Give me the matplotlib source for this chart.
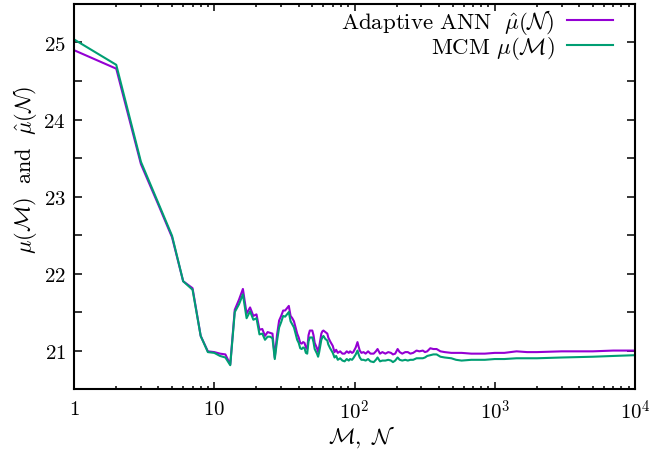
import matplotlib
matplotlib.use("Agg")
import matplotlib.pyplot as plt
from matplotlib.ticker import FixedLocator, FuncFormatter, MultipleLocator

plt.rcParams["mathtext.fontset"] = "cm"
plt.rcParams["font.family"] = "serif"
plt.rcParams["font.serif"] = ["DejaVu Serif"]

# sample size M (= N)
n_samples = [1, 2, 3, 4, 5, 6, 7, 8, 9, 10, 11, 12, 13, 14, 15, 16, 17, 18, 19, 20,
             21, 22, 23, 24, 25, 26, 27, 28, 29, 30, 31, 32, 33, 34, 35, 36, 37, 38, 39, 40,
             41, 42, 43, 44, 45, 46, 47, 48, 50, 51, 52, 54, 55, 56, 58, 59, 60, 62, 64, 65,
             67, 69, 70, 72, 74, 76, 79, 82, 85, 88, 91, 93, 96, 98, 102, 105, 107, 109, 112, 116,
             120, 125, 130, 137, 142, 146, 152, 158, 166, 174, 182, 188, 195, 203, 210, 219, 230, 240, 250, 262,
             277, 290, 307, 318, 330, 347, 365, 385, 410, 440, 490, 530, 580, 680, 850, 1000, 1170, 1430, 1700, 2000,
             3000, 5000, 7000, 10000]

ann_mean = [24.90, 24.66, 23.42, 22.89, 22.47, 21.90, 21.81, 21.19, 20.99, 20.98, 20.96, 20.95, 20.82, 21.53, 21.66, 21.80, 21.48, 21.56, 21.45, 21.47,
            21.27, 21.28, 21.19, 21.24, 21.23, 21.22, 20.91, 21.20, 21.39, 21.45, 21.52, 21.52, 21.55, 21.58, 21.45, 21.42, 21.38, 21.30, 21.22, 21.17,
            21.10, 21.09, 21.11, 21.10, 21.04, 21.02, 21.20, 21.26, 21.26, 21.20, 21.10, 21.03, 20.98, 21.05, 21.22, 21.25, 21.26, 21.24, 21.22, 21.17,
            21.12, 21.08, 21.06, 20.98, 21.01, 20.97, 20.99, 20.96, 20.96, 20.99, 20.97, 20.99, 20.97, 20.98, 21.04, 21.11, 21.05, 21.00, 20.97, 20.98,
            20.96, 20.99, 20.96, 20.96, 20.99, 21.02, 20.96, 20.98, 20.96, 20.98, 20.97, 20.95, 20.96, 21.02, 20.98, 20.96, 20.98, 20.98, 20.96, 20.97,
            21.00, 20.99, 21.00, 20.98, 20.99, 21.03, 21.02, 21.02, 20.99, 20.98, 20.97, 20.97, 20.97, 20.96, 20.96, 20.97, 20.97, 20.99, 20.98, 20.98,
            20.99, 20.99, 21.00, 21.00]

mcm_mean = [25.04, 24.71, 23.45, 22.91, 22.49, 21.90, 21.79, 21.19, 20.98, 20.97, 20.93, 20.91, 20.81, 21.50, 21.60, 21.73, 21.42, 21.51, 21.40, 21.42,
            21.21, 21.22, 21.14, 21.18, 21.18, 21.16, 20.89, 21.12, 21.30, 21.37, 21.45, 21.44, 21.47, 21.50, 21.38, 21.34, 21.30, 21.22, 21.14, 21.10,
            21.03, 21.02, 21.04, 21.03, 20.97, 20.96, 21.12, 21.17, 21.17, 21.11, 21.02, 20.96, 20.92, 20.98, 21.14, 21.17, 21.19, 21.15, 21.13, 21.08,
            21.03, 20.99, 20.97, 20.91, 20.93, 20.88, 20.90, 20.87, 20.86, 20.89, 20.87, 20.89, 20.88, 20.90, 20.95, 21.00, 20.95, 20.91, 20.88, 20.88,
            20.87, 20.89, 20.86, 20.85, 20.88, 20.91, 20.86, 20.87, 20.87, 20.88, 20.87, 20.85, 20.87, 20.91, 20.88, 20.87, 20.88, 20.87, 20.88, 20.88,
            20.90, 20.90, 20.90, 20.91, 20.93, 20.94, 20.95, 20.95, 20.92, 20.91, 20.90, 20.88, 20.87, 20.88, 20.88, 20.89, 20.89, 20.90, 20.90, 20.90,
            20.91, 20.92, 20.93, 20.94]

PURPLE = "#9400d3"
GREEN = "#009e73"

fig = plt.figure(figsize=(6.67, 4.52), dpi=100)
ax = fig.add_axes([0.111, 0.137, 0.841, 0.852])

ax.plot(n_samples, ann_mean, color=PURPLE, linewidth=1.5,
        label=r"$\mathrm{Adaptive\ ANN}\ \ \hat{\mu}(\mathcal{N})$")
ax.plot(n_samples, mcm_mean, color=GREEN, linewidth=1.5,
        label=r"$\mathrm{MCM}\ \mu(\mathcal{M})$")

ax.set_xscale("log")
ax.set_xlim(1, 1e4)
ax.set_ylim(20.5, 25.5)

ax.xaxis.set_major_locator(FixedLocator([1, 10, 100, 1000, 10000]))
ax.xaxis.set_minor_locator(FixedLocator([m * 10 ** e for e in range(4) for m in range(2, 10)]))
x_labels = {1: r"$1$", 10: r"$10$", 100: r"$10^{2}$", 1000: r"$10^{3}$", 10000: r"$10^{4}$"}
ax.xaxis.set_major_formatter(FuncFormatter(lambda v, p: x_labels.get(int(round(v)), "")))
ax.yaxis.set_major_locator(MultipleLocator(1))
ax.yaxis.set_minor_locator(MultipleLocator(0.5))
ax.yaxis.set_major_formatter(FuncFormatter(lambda v, p: r"$\mathbf{%d}$" % round(v)))

ax.tick_params(which="both", direction="in", top=True, right=True, width=1.1, labelsize=15, colors="black")
ax.tick_params(axis="y", which="both", length=5.5, pad=6)
ax.tick_params(axis="x", which="major", length=5, pad=7)
ax.tick_params(axis="x", which="minor", length=2)
for spine in ax.spines.values():
    spine.set_linewidth(1.5)

ax.set_xlabel(r"$\mathcal{M},\ \mathcal{N}$", fontsize=16)
ax.xaxis.set_label_coords(0.513, -0.122)
ax.xaxis.label.set_va("center")
ax.set_ylabel(r"$\mu(\mathcal{M})\ \ \mathrm{and}\ \ \hat{\mu}(\mathcal{N})$", fontsize=16)
ax.yaxis.set_label_coords(-0.087, 0.57)
ax.yaxis.label.set_va("center")

leg = ax.legend(loc="upper right", bbox_to_anchor=(0.969, 1.005), frameon=False, fontsize=16.5,
                markerfirst=False, handlelength=2.0, handletextpad=0.55, borderpad=0.2,
                borderaxespad=0, labelspacing=-0.05)
for t in leg.get_texts():
    t.set_ha("right")

fig.savefig("out.png", dpi=100)
